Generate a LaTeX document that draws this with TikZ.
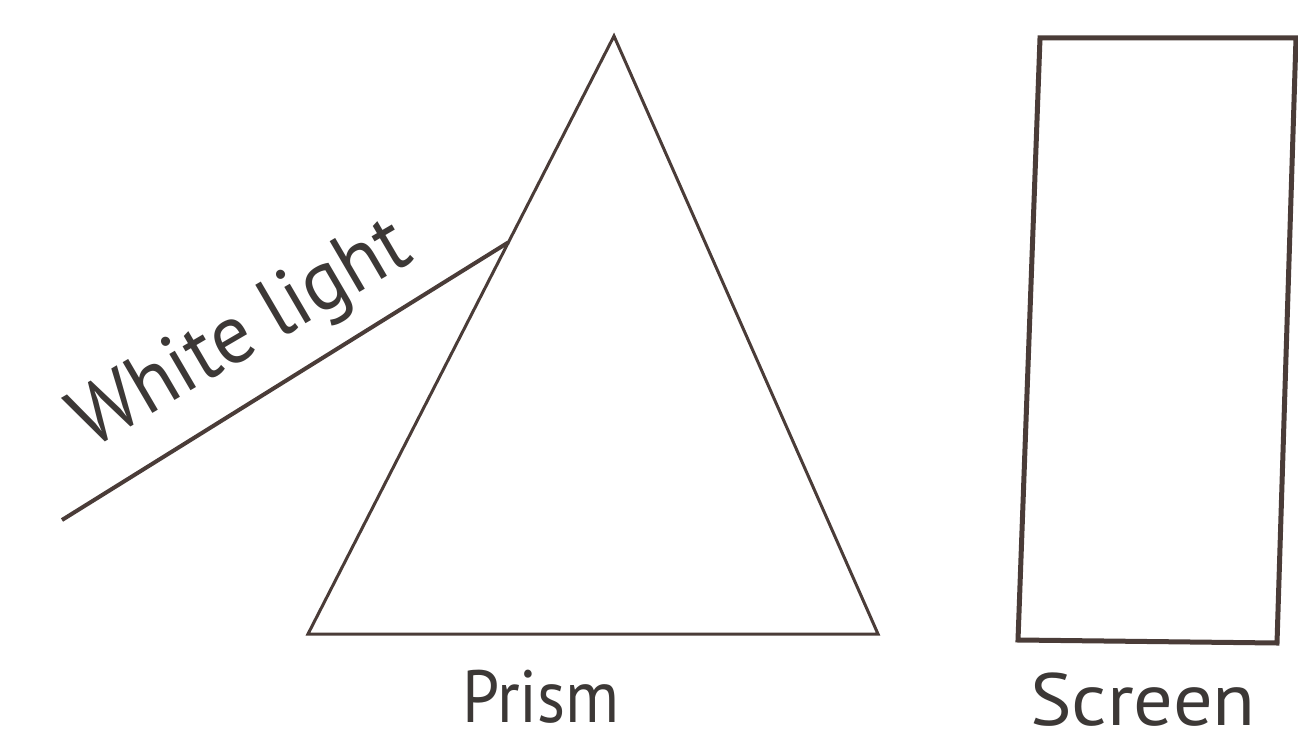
\documentclass[tikz,border=0pt]{standalone}
\usepackage{fontspec}
\setmainfont{PT Sans}
\usetikzlibrary{calc}
\definecolor{ink}{HTML}{4A3C38}
\definecolor{txt}{HTML}{3C3836}
\begin{document}
\begin{tikzpicture}[x=1pt,y=-1pt,
  edge/.style={draw=ink,line width=3pt,line join=miter},
  screenedge/.style={draw=ink,line width=5pt,line join=miter},
  ray/.style={draw=ink,line width=4pt},
  lbl/.style={text=txt,inner sep=0pt,font=\fontsize{74}{80}\selectfont}]
\fill[white] (0,0) rectangle (1298,733);
\useasboundingbox (0,0) rectangle (1298,733);
% prism
\coordinate (apex) at (614,36);
\coordinate (bl) at (308,634);
\coordinate (br) at (878,634);
\draw[edge] (apex) -- (bl) -- (br) -- cycle;
% incident ray
\coordinate (src) at (62,520);
\coordinate (hit) at ($(apex)!0.345!(bl)$);
\draw[ray] (src) -- (hit);
% screen
\coordinate (s1) at (1040,38);
\coordinate (s2) at (1296,38);
\coordinate (s3) at (1277,643);
\coordinate (s4) at (1018,640);
\draw[screenedge] (s1) -- (s2) -- (s3) -- (s4) -- cycle;
% labels
\node[lbl,font=\fontsize{84}{90}\selectfont,anchor=base west,rotate=30.3] (wl) at (90,450) {\scalebox{0.95}[1]{White light}};
\node[lbl,anchor=base] (prism) at (541,722) {\scalebox{0.9}[1]{Prism}};
\node[lbl,anchor=base] (screen) at (1143,725) {\scalebox{1.06}[1]{Screen}};
\end{tikzpicture}
\end{document}
